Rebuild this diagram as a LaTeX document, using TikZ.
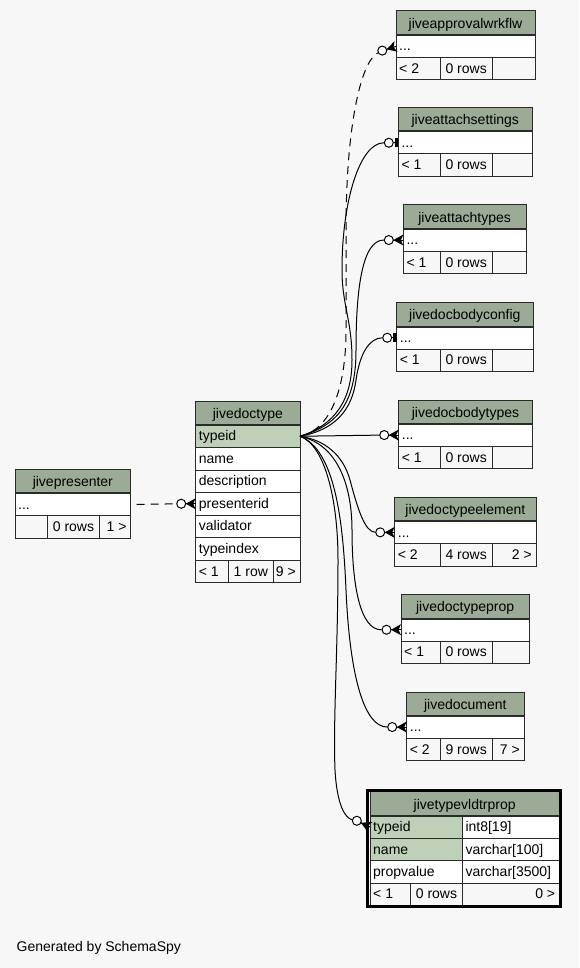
\documentclass[tikz,border=0pt]{standalone}
\usepackage{fontspec}
\setmainfont{Liberation Sans}
\usetikzlibrary{calc}
\definecolor{bgc}{HTML}{F7F7F7}
\definecolor{hdr}{HTML}{9BAB96}
\definecolor{keyc}{HTML}{BED1B8}
\definecolor{bord}{HTML}{2A2A2A}
\tikzset{
 cellbox/.style={draw=bord, line width=1pt, inner sep=0pt, outer sep=0pt, anchor=north west, rectangle},
 lbl/.style={inner sep=0pt, font=\fontsize{14}{16}\selectfont, text=black},
 hdrline/.style={draw=bord, line width=2pt},
 rel/.style={draw=black, line width=1pt},
 dashrel/.style={rel, dash pattern=on 8pt off 6pt},
 optc/.style={circle, draw=black, fill=white, line width=1pt, minimum size=9pt, inner sep=0pt},
}
\newcommand\cel[6]{\node[cellbox, fill=#6, minimum width={#4 pt-#2 pt}, minimum height={#5 pt-#3 pt}] (#1) at (#2,#3) {};}
\newcommand\celL[2]{\node[lbl, anchor=base west] at ($(#1.south west)+(3,-6.6)$) {#2};}
\newcommand\celC[2]{\node[lbl, anchor=base] at ($(#1.south)+(0,-6.6)$) {#2};}
\newcommand\celR[2]{\node[lbl, anchor=base east] at ($(#1.south east)+(-4,-6.6)$) {#2};}
\newcommand\smalltab[8]{%
 \pgfmathsetmacro\ya{#4+23.8}\pgfmathsetmacro\yb{\ya+22.5}\pgfmathsetmacro\yc{\yb+22.5}%
 \cel{#1-h}{#2}{#4}{#3}{\ya}{hdr}
 \cel{#1-r}{#2}{\ya}{#3}{\yb}{white}
 \cel{#1-f1}{#2}{\yb}{440}{\yc}{bgc}
 \cel{#1-f2}{440}{\yb}{492.3}{\yc}{bgc}
 \cel{#1-f3}{492.3}{\yb}{#3}{\yc}{bgc}
 \draw[hdrline] (#1-h.south west) -- (#1-h.south east);
 \celC{#1-h}{#5}\celL{#1-r}{...}\celL{#1-f1}{#6}\celC{#1-f2}{#7}\celR{#1-f3}{#8}%
}
\newcommand\crowend[3]{%
 \fill ($(#2)!5.5pt!90:(#3)$) -- (#3) -- ($(#2)!5.5pt!-90:(#3)$) -- ($(#2)!2.5pt!(#3)$) -- cycle;
 \draw[rel] (#3) -- (#2);
 \node[optc] (#1) at ($(#3)!-4.5pt!(#2)$) {};}
\newcommand\teeend[2]{%
 \fill ($(#2)+(-3.5,-4.5)$) rectangle ($(#2)+(0,4.5)$);
 \node[optc] (#1) at ($(#2)+(-9.5,0)$) {};
 \draw[rel] (#1.east) -- (#2);}
\begin{document}
\begin{tikzpicture}[x=1pt,y=-1pt]
\fill[bgc] (0,0) rectangle (579,968);
\useasboundingbox (0,0) rectangle (579,968);

% right-hand tables
\smalltab{app}{396}{535}{11}{jiveapprovalwrkflw}{< 2}{0 rows}{}
\smalltab{as}{398.3}{532.3}{107.7}{jiveattachsettings}{< 1}{0 rows}{}
\smalltab{at}{403.3}{526}{205}{jiveattachtypes}{< 1}{0 rows}{}
\smalltab{dbc}{396.7}{533}{302.7}{jivedocbodyconfig}{< 1}{0 rows}{}
\smalltab{dbt}{398.7}{532.3}{400}{jivedocbodytypes}{< 1}{0 rows}{}
\smalltab{dte}{394.7}{536}{497.3}{jivedoctypeelement}{< 2}{4 rows}{2 >}
\smalltab{dtp}{401}{529.3}{594.7}{jivedoctypeprop}{< 1}{0 rows}{}
\smalltab{doc}{406.7}{524}{692}{jivedocument}{< 2}{9 rows}{7 >}

% jivedoctype
\cel{dt-h}{195.7}{401.7}{300}{425}{hdr}
\cel{dt-typeid}{195.7}{425}{300}{447.5}{keyc}
\cel{dt-name}{195.7}{447.5}{300}{470}{white}
\cel{dt-desc}{195.7}{470}{300}{492.5}{white}
\cel{dt-presenterid}{195.7}{492.5}{300}{515}{white}
\cel{dt-validator}{195.7}{515}{300}{537.5}{white}
\cel{dt-typeindex}{195.7}{537.5}{300}{560}{white}
\cel{dt-f1}{195.7}{560}{228.3}{582.7}{bgc}
\cel{dt-f2}{228.3}{560}{273.3}{582.7}{bgc}
\cel{dt-f3}{273.3}{560}{300}{582.7}{bgc}
\draw[hdrline] (dt-h.south west) -- (dt-h.south east);
\celC{dt-h}{jivedoctype}
\celL{dt-typeid}{typeid}
\celL{dt-name}{name}
\celL{dt-desc}{description}
\celL{dt-presenterid}{presenterid}
\celL{dt-validator}{validator}
\celL{dt-typeindex}{typeindex}
\celL{dt-f1}{< 1}\celC{dt-f2}{1 row}\celR{dt-f3}{9 >}

% jivepresenter
\cel{pres-h}{15}{469}{130.7}{493.3}{hdr}
\cel{pres-r}{15}{493.3}{130.7}{515.8}{white}
\cel{pres-f1}{15}{515.8}{47.7}{538.5}{bgc}
\cel{pres-f2}{47.7}{515.8}{99.3}{538.5}{bgc}
\cel{pres-f3}{99.3}{515.8}{130.7}{538.5}{bgc}
\draw[hdrline] (pres-h.south west) -- (pres-h.south east);
\celC{pres-h}{jivepresenter}
\celL{pres-r}{...}
\celC{pres-f2}{0 rows}\celR{pres-f3}{1 >}

% jivetypevldtrprop
\cel{tv-h}{370}{791.7}{559.3}{816}{hdr}
\cel{tv-typeid}{370}{816}{462.3}{838.3}{keyc}
\cel{tv-typeidt}{462.3}{816}{559.3}{838.3}{white}
\cel{tv-name}{370}{838.3}{462.3}{860.7}{keyc}
\cel{tv-namet}{462.3}{838.3}{559.3}{860.7}{white}
\cel{tv-pv}{370}{860.7}{462.3}{883.3}{white}
\cel{tv-pvt}{462.3}{860.7}{559.3}{883.3}{white}
\cel{tv-f1}{370}{883.3}{410.7}{905.5}{bgc}
\cel{tv-f2}{410.7}{883.3}{462.3}{905.5}{bgc}
\cel{tv-f3}{462.3}{883.3}{559.3}{905.5}{bgc}
\draw[hdrline] (tv-h.south west) -- (tv-h.south east);
\draw[black, line width=3pt] (367.5,790.5) rectangle (560.5,906.8);
\celC{tv-h}{jivetypevldtrprop}
\celL{tv-typeid}{typeid}\celL{tv-typeidt}{int8[19]}
\celL{tv-name}{name}\celL{tv-namet}{varchar[100]}
\celL{tv-pv}{propvalue}\celL{tv-pvt}{varchar[3500]}
\celL{tv-f1}{< 1}\celC{tv-f2}{0 rows}\celR{tv-f3}{0 >}

% relationship end markers
\coordinate (app-E) at (396,46.5);
\coordinate (app-A) at (386.6,49.3);
\crowend{c-app}{app-E}{app-A}
\teeend{c-as}{as-r.west}
\coordinate (at-A) at ($(at-r.west)+(-10,0)$);
\crowend{c-at}{at-r.west}{at-A}
\teeend{c-dbc}{dbc-r.west}
\coordinate (dbt-A) at ($(dbt-r.west)+(-10,0)$);
\crowend{c-dbt}{dbt-r.west}{dbt-A}
\coordinate (dte-A) at ($(dte-r.west)+(-10,0)$);
\crowend{c-dte}{dte-r.west}{dte-A}
\coordinate (dtp-A) at ($(dtp-r.west)+(-10,0)$);
\crowend{c-dtp}{dtp-r.west}{dtp-A}
\coordinate (doc-A) at ($(doc-r.west)+(-10,0)$);
\crowend{c-doc}{doc-r.west}{doc-A}
\coordinate (tv-E) at (370,827);
\coordinate (tv-A) at (360.9,822.7);
\crowend{c-tv}{tv-E}{tv-A}
\coordinate (pres-A) at ($(dt-presenterid.west)+(-10,0)$);
\crowend{c-pres}{dt-presenterid.west}{pres-A}

% connectors
\draw[dashrel] (dt-typeid.east) .. controls (330,430) and (346,390) .. (346,330) -- (346,230) .. controls (346,130) and (360,62) .. (c-app);
\draw[rel] (dt-typeid.east) .. controls (335,425) and (352,400) .. (352,360) .. controls (352,320) and (342,305) .. (342,270) .. controls (342,200) and (360,143) .. (c-as);
\draw[rel] (dt-typeid.east) .. controls (340,425) and (356,400) .. (356,350) .. controls (356,290) and (362,240) .. (c-at);
\draw[rel] (dt-typeid.east) .. controls (335,430) and (352,410) .. (356,380) .. controls (360,352) and (370,338) .. (c-dbc);
\draw[rel] (dt-typeid.east) -- (c-dbt);
\draw[rel] (dt-typeid.east) .. controls (325,440) and (343,455) .. (350,480) .. controls (358,510) and (365,532) .. (c-dte);
\draw[rel] (dt-typeid.east) .. controls (340,445) and (352,490) .. (352,530) .. controls (352,585) and (360,630) .. (c-dtp);
\draw[rel] (dt-typeid.east) .. controls (335,450) and (343,520) .. (346,590) .. controls (350,680) and (365,727) .. (c-doc);
\draw[rel] (dt-typeid.east) .. controls (325,445) and (338,500) .. (338,560) .. controls (338,650) and (333,720) .. (335,770) .. controls (337,805) and (345,818) .. (c-tv);
\draw[dashrel, dash phase=8pt] (pres-r.east) -- (c-pres);

\node[lbl, anchor=base west] (gen) at (16.5,951.5) {Generated by SchemaSpy};
\end{tikzpicture}
\end{document}
